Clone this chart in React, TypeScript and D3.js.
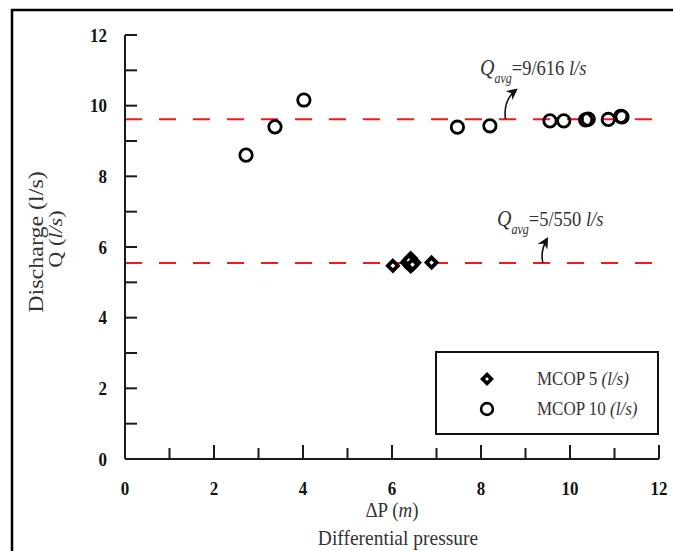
import React from 'react';
import * as d3 from 'd3';

// MCOP 10 (l/s) – open circles
const mcop10X = [2.72, 3.37, 4.02, 7.47, 8.2, 9.55, 9.86, 10.35, 10.41, 10.86, 11.14, 11.17];
const mcop10Y = [8.6, 9.4, 10.16, 9.39, 9.43, 9.57, 9.57, 9.6, 9.62, 9.61, 9.7, 9.68];

// MCOP 5 (l/s) – diamonds
const mcop5X = [6.02, 6.34, 6.5, 6.42, 6.42, 6.38, 6.46, 6.89];
const mcop5Y = [5.47, 5.56, 5.56, 5.68, 5.45, 5.62, 5.5, 5.56];

const avgValues = [9.616, 5.55];
const avgLabels = ['9/616', '5/550'];

const xTicks = [0, 2, 4, 6, 8, 10, 12];
const yTicks = [0, 2, 4, 6, 8, 10, 12];
const minorTicks = [1, 3, 5, 7, 9, 11];

const legendLabels = ['MCOP 5', 'MCOP 10'];

const serif = '"Liberation Serif", "Times New Roman", serif';

const diamond = (s: number) => `M0,${-s}L${s},0L0,${s}L${-s},0Z`;

function App() {
  const x = d3.scaleLinear().domain([0, 12]).range([125, 659]);
  const y = d3.scaleLinear().domain([0, 12]).range([459, 35]);

  const sy = 1.15;

  // arrow start x (data units on the avg line), curve controls and tip in px
  const annot = [
    { tx: 480, ty: 75, sx: 8.55, tip: [516, 90], c1: [504, 108], c2: [507, 97] },
    { tx: 497, ty: 226, sx: 9.39, tip: [547, 239], c1: [541, 255], c2: [543, 246] },
  ];

  return (
    <svg width={673} height={551} style={{ position: 'absolute', left: 0, top: 0, background: '#fff' }}>
      <defs>
        <marker id="arrow" viewBox="0 0 10 10" refX="8" refY="5" markerWidth="7" markerHeight="7" orient="auto">
          <path d="M0,0 L10,5 L0,10 L3,5 Z" fill="#111" />
        </marker>
      </defs>
      <rect x={12} y={10} width={700} height={600} fill="none" stroke="#000" strokeWidth={2.5} />

      {/* average lines */}
      {avgValues.map((v, i) => (
        <line key={i} x1={x(0)} x2={x(11.85)} y1={y(v)} y2={y(v)} stroke="#f01a1a" strokeWidth={2} strokeDasharray="17 17" />
      ))}

      {/* axes */}
      <g stroke="#1a1a1a" strokeWidth={2} fill="none">
        <line x1={x(0)} x2={x(0)} y1={y(12)} y2={y(0)} />
        <line x1={x(0)} x2={x(12)} y1={y(0)} y2={y(0)} />
        {yTicks.concat(minorTicks).map((t) => (
          <line key={'y' + t} x1={x(0)} x2={x(0) + 12} y1={y(t)} y2={y(t)} />
        ))}
        {xTicks.map((t) => (
          <line key={'x' + t} x1={x(t)} x2={x(t)} y1={y(0)} y2={y(0) - 14} />
        ))}
        {minorTicks.map((t) => (
          <line key={'xm' + t} x1={x(t)} x2={x(t)} y1={y(0)} y2={y(0) - 11} />
        ))}
      </g>

      {/* tick labels */}
      <g fontFamily={serif} fontWeight="bold" fontSize={17} fill="#111">
        {yTicks.map((t) => (
          <text key={'yl' + t} textAnchor="end" transform={`translate(107,${y(t) + 6.5}) scale(1,${sy})`}>
            {t}
          </text>
        ))}
        {xTicks.map((t) => (
          <text key={'xl' + t} textAnchor="middle" transform={`translate(${x(t)},495) scale(1,${sy})`}>
            {t}
          </text>
        ))}
      </g>

      {/* axis titles */}
      <g fontFamily={serif} fill="#333">
        <text fontSize={20} textAnchor="middle" transform={`translate(43,242) rotate(-90) scale(1.2,1)`}>
          Discharge (l/s)
        </text>
        <text fontSize={18.5} textAnchor="middle" transform={`translate(61.5,239) rotate(-90) scale(1.2,1)`}>
          Q (<tspan fontStyle="italic">l/s</tspan>)
        </text>
        <text fontSize={19} textAnchor="middle" transform={`translate(392,517) scale(1,1.1)`}>
          ΔP (<tspan fontStyle="italic">m</tspan>)
        </text>
        <text fontSize={19.5} textAnchor="middle" transform={`translate(398,545) scale(1,1.1)`}>
          Differential pressure
        </text>
      </g>

      {/* annotations */}
      {annot.map((a, i) => (
        <g key={'an' + i}>
          <text fontFamily={serif} fontSize={18.5} fill="#333" transform={`translate(${a.tx},${a.ty}) scale(1,${sy})`}>
            <tspan fontStyle="italic" fontSize={20}>Q</tspan>
            <tspan fontStyle="italic" fontSize={12} dy={7}>avg</tspan>
            <tspan dy={-7}>={avgLabels[i]} </tspan>
            <tspan fontStyle="italic">l/s</tspan>
          </text>
          <path
            d={`M${x(a.sx)},${y(avgValues[i])} C${a.c1[0]},${a.c1[1]} ${a.c2[0]},${a.c2[1]} ${a.tip[0]},${a.tip[1]}`}
            fill="none"
            stroke="#111"
            strokeWidth={1.6}
            markerEnd="url(#arrow)"
          />
        </g>
      ))}

      {/* MCOP 10 circles */}
      <g fill="none" stroke="#000" strokeWidth={2.8}>
        {mcop10X.map((v, i) => (
          <circle key={'c' + i} cx={x(v)} cy={y(mcop10Y[i])} r={6.2} />
        ))}
      </g>

      {/* MCOP 5 diamonds */}
      <g fill="#fff" stroke="#000" strokeWidth={3.8} strokeLinejoin="miter">
        {mcop5X.map((v, i) => (
          <path key={'d' + i} d={diamond(5)} transform={`translate(${x(v)},${y(mcop5Y[i])})`} />
        ))}
      </g>

      {/* legend */}
      <rect x={436} y={352} width={222} height={82} fill="#fff" stroke="#111" strokeWidth={2} />
      <path d={diamond(4.4)} transform="translate(487,379)" fill="#fff" stroke="#000" strokeWidth={3.6} />
      <circle cx={487} cy={409} r={5.9} fill="none" stroke="#000" strokeWidth={2.6} />
      <g fontFamily={serif} fontSize={17} fill="#333">
        {legendLabels.map((l, i) => (
          <text key={'lg' + i} transform={`translate(537,${385 + i * 29.5}) scale(1,1.1)`}>
            {l} <tspan fontStyle="italic">(l/s)</tspan>
          </text>
        ))}
      </g>
    </svg>
  );
}

export default App;
